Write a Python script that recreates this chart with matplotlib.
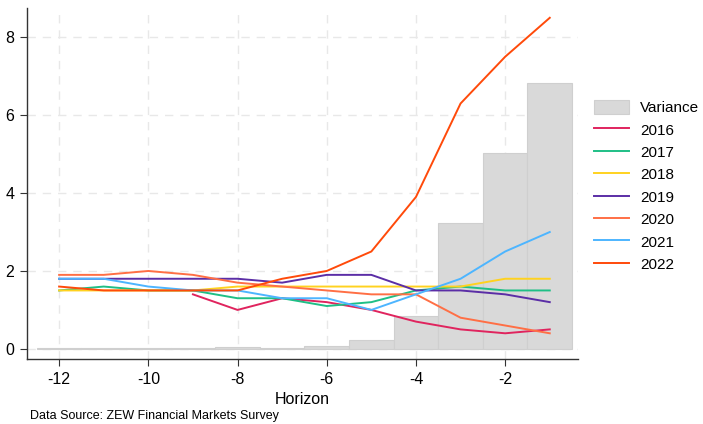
import matplotlib
matplotlib.use("Agg")
import matplotlib.pyplot as plt

plt.rcParams["font.family"] = ["Liberation Sans", "DejaVu Sans"]
plt.rcParams["axes.unicode_minus"] = False

horizon = [-12, -11, -10, -9, -8, -7, -6, -5, -4, -3, -2, -1]
variance = [0.01, 0.01, 0.03, 0.02, 0.05, 0.03, 0.08, 0.23, 0.85, 3.23, 5.03, 6.82]

y2016 = [None, None, None, 1.4, 1.0, 1.3, 1.2, 1.0, 0.7, 0.5, 0.4, 0.5]
y2017 = [1.5, 1.6, 1.5, 1.5, 1.3, 1.3, 1.1, 1.2, 1.5, 1.6, 1.5, 1.5]
y2018 = [1.5, 1.5, 1.5, 1.5, 1.6, 1.6, 1.6, 1.6, 1.6, 1.6, 1.8, 1.8]
y2019 = [1.8, 1.8, 1.8, 1.8, 1.8, 1.7, 1.9, 1.9, 1.5, 1.5, 1.4, 1.2]
y2020 = [1.9, 1.9, 2.0, 1.9, 1.7, 1.6, 1.5, 1.4, 1.4, 0.8, 0.6, 0.4]
y2021 = [1.8, 1.8, 1.6, 1.5, 1.5, 1.3, 1.3, 1.0, 1.4, 1.8, 2.5, 3.0]
y2022 = [1.6, 1.5, 1.5, 1.5, 1.5, 1.8, 2.0, 2.5, 3.9, 6.3, 7.5, 8.5]

series = {"2016": y2016, "2017": y2017, "2018": y2018, "2019": y2019,
          "2020": y2020, "2021": y2021, "2022": y2022}
colors = {"2016": "#e0245e", "2017": "#1fbf86", "2018": "#ffd21f", "2019": "#5b2ea6",
          "2020": "#ff6f45", "2021": "#4db5ff", "2022": "#ff4a0a"}

fig = plt.figure(figsize=(7.03, 4.24), dpi=100)
ax = fig.add_axes([0.0384, 0.1533, 0.7836, 0.8277])

bars = ax.bar(horizon, variance, width=1.0, color="#d9d9d9", edgecolor="#cfcfcf",
              linewidth=0.8, label="Variance", zorder=2)

handles = [bars]
for name, vals in series.items():
    xs = [h for h, v in zip(horizon, vals) if v is not None]
    ys = [v for v in vals if v is not None]
    line, = ax.plot(xs, ys, color=colors[name], lw=1.4, label=name, zorder=3)
    handles.append(line)

ax.set_xlim(-12.72, -0.37)
ax.set_ylim(-0.26, 8.75)
ax.set_xticks([-12, -10, -8, -6, -4, -2])
ax.set_yticks([0, 2, 4, 6, 8])
ax.tick_params(labelsize=11.5, length=5, width=0.8, color="#333333", pad=4)
ax.grid(True, ls=(0, (6, 5)), color="#e8e8e8", lw=1.0, zorder=0)
ax.set_axisbelow(True)
for s in ["top", "right"]:
    ax.spines[s].set_visible(False)
for s in ["left", "bottom"]:
    ax.spines[s].set_color("#333333")
    ax.spines[s].set_linewidth(1.0)

ax.set_xlabel("Horizon", fontsize=11.5, labelpad=4)

fig.legend(handles=handles, labels=[h.get_label() for h in handles],
           loc="upper left", bbox_to_anchor=(0.845, 0.765), frameon=False,
           borderpad=0, borderaxespad=0,
           fontsize=11, handlelength=2.3, handleheight=1.1, labelspacing=0.45,
           handletextpad=0.7)

fig.text(0.043, 0.012, "Data Source: ZEW Financial Markets Survey", fontsize=9)

fig.savefig("out.png", dpi=100)
